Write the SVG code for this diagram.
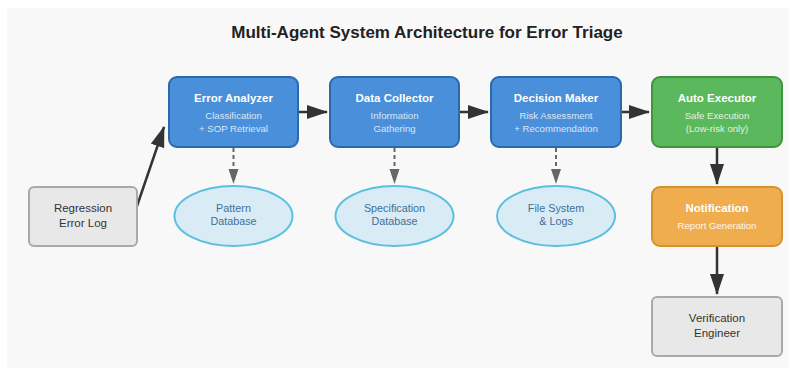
<svg xmlns="http://www.w3.org/2000/svg" width="796" height="375" viewBox="0 0 796 375">
<style>
.t{font-family:"Liberation Sans",Arial,sans-serif;text-anchor:middle}
.title{font-size:17px;font-weight:bold;fill:#222}
.bt{font-size:11.5px;font-weight:bold;fill:#fff}
.st{font-size:9.6px;fill:#dbe7f5}
.gt{font-size:11.5px;fill:#333}
.et{font-size:10.8px;fill:#3f6f96}
.blue{fill:#4a8fda;stroke:#2c68ae;stroke-width:2}
.green{fill:#5cb85c;stroke:#3e953e;stroke-width:2}
.orange{fill:#f0ad4e;stroke:#d4922e;stroke-width:2}
.gray{fill:#e8e8e8;stroke:#a9a9a9;stroke-width:2}
.ell{fill:#d9ecf6;stroke:#5bc0de;stroke-width:2}
.solid{stroke:#333;stroke-width:2.5;fill:none}
.dash{stroke:#666;stroke-width:2;stroke-dasharray:4,3;fill:none}
</style>
<defs>
<marker id="ah" markerUnits="userSpaceOnUse" markerWidth="21" markerHeight="14" refX="20" refY="7" orient="auto">
<path d="M0,0 L21,7 L0,14 Z" fill="#333"/>
</marker>
<marker id="ahg" markerUnits="userSpaceOnUse" markerWidth="15" markerHeight="11" refX="14" refY="5.5" orient="auto">
<path d="M0,0.5 L15,5.5 L0,10.5 Z" fill="#666"/>
</marker>
</defs>
<rect x="0" y="0" width="796" height="375" fill="#fff"/>
<rect x="7" y="8" width="782" height="360" fill="#f8f8f8"/>
<text class="t title" x="427" y="38">Multi-Agent System Architecture for Error Triage</text>

<g id="connectors">
<line class="solid" x1="137" y1="206" x2="164" y2="127" marker-end="url(#ah)"/>
<line class="solid" x1="298" y1="112" x2="327" y2="112" marker-end="url(#ah)"/>
<line class="solid" x1="459" y1="112" x2="488" y2="112" marker-end="url(#ah)"/>
<line class="solid" x1="621" y1="112" x2="649" y2="112" marker-end="url(#ah)"/>
<line class="solid" x1="717" y1="147" x2="717" y2="184" marker-end="url(#ah)"/>
<line class="solid" x1="717" y1="246" x2="717" y2="294" marker-end="url(#ah)"/>
<line class="dash" x1="233.5" y1="148" x2="233.5" y2="183" marker-end="url(#ahg)"/>
<line class="dash" x1="394.5" y1="148" x2="394.5" y2="183" marker-end="url(#ahg)"/>
<line class="dash" x1="556" y1="148" x2="556" y2="183" marker-end="url(#ahg)"/>
</g>

<g id="regression-log">
<rect class="gray" x="29" y="187" width="108" height="59" rx="5"/>
<text class="t gt" x="83" y="212">Regression</text>
<text class="t gt" x="83" y="227">Error Log</text>
</g>

<g id="error-analyzer">
<rect class="blue" x="169" y="77" width="129" height="70" rx="8"/>
<text class="t bt" x="233.5" y="102">Error Analyzer</text>
<text class="t st" x="233.5" y="119">Classification</text>
<text class="t st" x="233.5" y="132">+ SOP Retrieval</text>
</g>

<g id="data-collector">
<rect class="blue" x="330" y="77" width="129" height="70" rx="8"/>
<text class="t bt" x="394.5" y="102">Data Collector</text>
<text class="t st" x="394.5" y="119">Information</text>
<text class="t st" x="394.5" y="132">Gathering</text>
</g>

<g id="decision-maker">
<rect class="blue" x="491" y="77" width="130" height="70" rx="8"/>
<text class="t bt" x="556" y="102">Decision Maker</text>
<text class="t st" x="556" y="119">Risk Assessment</text>
<text class="t st" x="556" y="132">+ Recommendation</text>
</g>

<g id="auto-executor">
<rect class="green" x="652" y="77" width="130" height="70" rx="8"/>
<text class="t bt" x="717" y="102">Auto Executor</text>
<text class="t st" x="717" y="119" style="fill:#e2f2e2">Safe Execution</text>
<text class="t st" x="717" y="132" style="fill:#e2f2e2">(Low-risk only)</text>
</g>

<g id="notification">
<rect class="orange" x="652" y="187" width="130" height="59" rx="8"/>
<text class="t bt" x="717" y="212">Notification</text>
<text class="t st" x="717" y="229" style="fill:#fff6ea">Report Generation</text>
</g>

<g id="verification-engineer">
<rect class="gray" x="652" y="297" width="130" height="59" rx="5"/>
<text class="t gt" x="717" y="322">Verification</text>
<text class="t gt" x="717" y="337">Engineer</text>
</g>

<g id="pattern-db">
<ellipse class="ell" cx="233.5" cy="216" rx="59" ry="30"/>
<text class="t et" x="233.5" y="212">Pattern</text>
<text class="t et" x="233.5" y="225">Database</text>
</g>

<g id="spec-db">
<ellipse class="ell" cx="394.5" cy="216" rx="59" ry="30"/>
<text class="t et" x="394.5" y="212">Specification</text>
<text class="t et" x="394.5" y="225">Database</text>
</g>

<g id="file-system">
<ellipse class="ell" cx="556" cy="216" rx="59" ry="30"/>
<text class="t et" x="556" y="212">File System</text>
<text class="t et" x="556" y="225">&amp; Logs</text>
</g>
</svg>
